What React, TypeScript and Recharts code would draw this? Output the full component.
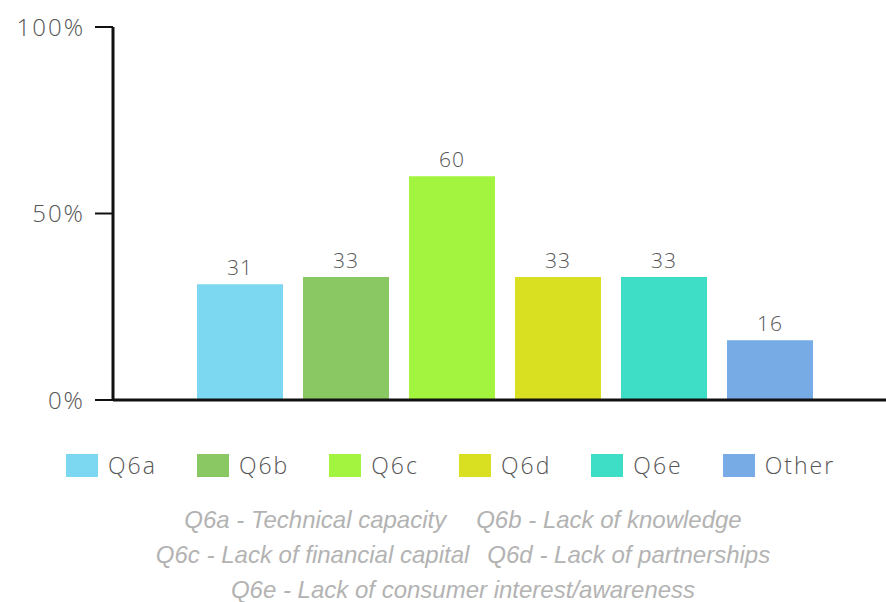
import React from 'react';
import { BarChart, Bar, XAxis, YAxis, LabelList } from 'recharts';

const categories = ['Q6a', 'Q6b', 'Q6c', 'Q6d', 'Q6e', 'Other'];
const values = [31, 33, 60, 33, 33, 16];
const colors = ['#7cd8f0', '#8ac864', '#a2f43e', '#d9e021', '#3ddec5', '#77abe5'];
const yTicks = [0, 50, 100];
const footnoteLines = [
  ['Q6a - Technical capacity', 'Q6b - Lack of knowledge'],
  ['Q6c - Lack of financial capital', 'Q6d - Lack of partnerships'],
  ['Q6e - Lack of consumer interest/awareness'],
];

const row: Record<string, string | number> = { name: '' };
categories.forEach((c, i) => {
  row[c] = values[i];
});
const data = [row];

const textColor = '#555';

export default function App() {
  return (
    <div
      style={{
        position: 'absolute',
        left: 0,
        top: 0,
        width: 886,
        height: 602,
        background: '#fff',
        fontFamily: "'Open Sans', sans-serif",
        overflow: 'hidden',
      }}
    >
      <BarChart
        width={886}
        height={430}
        data={data}
        margin={{ top: 27, right: 0, left: 0, bottom: 0 }}
        barGap={20}
        style={{ fontFamily: "'Open Sans', sans-serif" }}
      >
        <XAxis
          dataKey="name"
          height={30}
          tick={false}
          tickSize={18}
          padding={{ left: 11, right: 0 }}
          axisLine={{ stroke: '#111', strokeWidth: 3 }}
          tickLine={{ stroke: '#111', strokeWidth: 2 }}
        />
        <YAxis
          width={113}
          domain={[0, 100]}
          ticks={yTicks}
          tickFormatter={(v) => `${v}%`}
          tickSize={18}
          tickMargin={10}
          axisLine={{ stroke: '#111', strokeWidth: 3 }}
          tickLine={{ stroke: '#111', strokeWidth: 2 }}
          tick={{ fill: textColor, fontSize: 24, fontWeight: 300, letterSpacing: 2 }}
        />
        {categories.map((c, i) => (
          <Bar key={c} dataKey={c} fill={colors[i]} barSize={86} isAnimationActive={false}>
            <LabelList
              dataKey={c}
              position="top"
              offset={9}
              fill={textColor}
              fontSize={21}
              fontWeight={300}
              letterSpacing={1}
            />
          </Bar>
        ))}
      </BarChart>

      <div
        style={{
          position: 'absolute',
          left: 66,
          top: 454,
          display: 'flex',
          gap: 40,
          alignItems: 'center',
        }}
      >
        {categories.map((c, i) => (
          <div key={c} style={{ display: 'flex', alignItems: 'center' }}>
            <span style={{ width: 32, height: 23, background: colors[i], display: 'inline-block', marginRight: 10 }} />
            <span
              style={{ fontSize: 23, fontWeight: 300, color: textColor, lineHeight: '23px', letterSpacing: 2 }}
            >
              {c}
            </span>
          </div>
        ))}
      </div>

      <div
        style={{
          position: 'absolute',
          left: 40,
          top: 502,
          width: 846,
          textAlign: 'center',
          fontFamily: 'Liberation Sans',
          fontStyle: 'italic',
          fontSize: 24,
          color: '#b3b3b3',
          lineHeight: '35px',
        }}
      >
        {footnoteLines.map((line, i) => (
          <div key={i}>
            {line.map((part, j) => (
              <span key={j} style={{ marginLeft: j > 0 ? (i === 0 ? 30 : 18) : 0 }}>
                {part}
              </span>
            ))}
          </div>
        ))}
      </div>
    </div>
  );
}
